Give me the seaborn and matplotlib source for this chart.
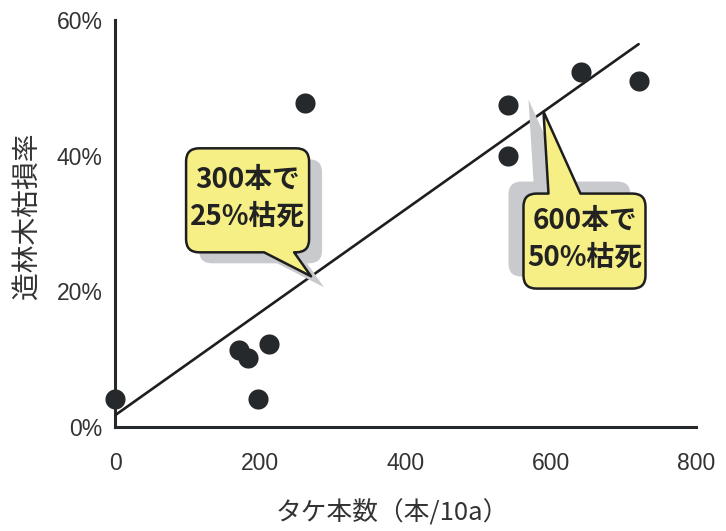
import numpy as np
import pandas as pd
import seaborn as sns
import matplotlib
matplotlib.use("Agg")
import matplotlib.pyplot as plt
from matplotlib.path import Path
from matplotlib.patches import PathPatch
from matplotlib.transforms import IdentityTransform

# ---- data ----
bamboo = [0, 171, 183, 212, 197, 262, 541, 541, 641, 721]
damage = [4.1, 11.3, 10.1, 12.3, 4.1, 47.8, 47.5, 39.9, 52.4, 51.0]
x_ticks = [0, 200, 400, 600, 800]
y_ticks = [0, 20, 40, 60]
y_ticklabels = ["0%", "20%", "40%", "60%"]
callout_x = [270, 590]
callout_text = ["300本で\n25%枯死", "600本で\n50%枯死"]
xlabel = "タケ本数（本/10a）"
ylabel = "造林木枯損率"

df = pd.DataFrame({"bamboo": bamboo, "damage": damage})

sns.set_theme(style="white")
plt.rcParams["font.family"] = ["Noto Sans CJK JP", "DejaVu Sans"]

DPI = 100
W, H = 726, 531
fig = plt.figure(figsize=(W / DPI, H / DPI), dpi=DPI)
ax = fig.add_axes([115 / W, 1 - 427 / H, (696 - 115) / W, (427 - 20) / H])

dark = "#25292c"
sns.regplot(data=df, x="bamboo", y="damage", ci=None, ax=ax,
            scatter_kws=dict(s=210, color=dark, alpha=1, clip_on=False, zorder=4,
                             linewidths=0),
            line_kws=dict(color="#1e1e1e", lw=1.9, zorder=3))

ax.set_xlim(0, 800)
ax.set_ylim(0, 60)
ax.set_xticks(x_ticks)
ax.set_yticks(y_ticks)
ax.set_yticklabels(y_ticklabels)
for s in ["top", "right"]:
    ax.spines[s].set_visible(False)
for s in ["left", "bottom"]:
    ax.spines[s].set_linewidth(2.2)
    ax.spines[s].set_color(dark)
ax.tick_params(axis="both", direction="in", length=6, width=1.9, color=dark,
               labelsize=16.5, labelcolor="#333333",
               labelfontfamily="Liberation Sans")
ax.tick_params(axis="x", pad=18)
ax.tick_params(axis="y", pad=9)

ax.set_xlabel(xlabel, fontsize=18.5, color="#333333")
ax.set_ylabel(ylabel, fontsize=20, color="#333333")
ax.xaxis.set_label_coords((392 - 115) / 581, (427 - 513) / 407)
ax.xaxis.label.set_verticalalignment("center")
ax.yaxis.set_label_coords((28 - 115) / 581, (427 - 216) / 407)
ax.yaxis.label.set_verticalalignment("center")

# ---- callouts ----
coef = np.polyfit(bamboo, damage, 1)


def bubble_path(x0, x1, y0, y1, r, side, b0, b1, tip):
    M, L, C = Path.MOVETO, Path.LINETO, Path.CURVE3
    v, c = [(x0 + r, y0)], [M]
    if side == "bottom":
        v += [(b0, y0), tip, (b1, y0)]; c += [L, L, L]
    v += [(x1 - r, y0), (x1, y0), (x1, y0 + r), (x1, y1 - r), (x1, y1), (x1 - r, y1)]
    c += [L, C, C, L, C, C]
    if side == "top":
        v += [(b1, y1), tip, (b0, y1)]; c += [L, L, L]
    v += [(x0 + r, y1), (x0, y1), (x0, y1 - r), (x0, y0 + r), (x0, y0), (x0 + r, y0)]
    c += [L, C, C, L, C, C]
    v.append((x0 + r, y0)); c.append(Path.CLOSEPOLY)
    return Path(v, c)


# geometry relative to the tip, in pixels (x right, y up)
specs = [
    dict(box=(-125, -2, 24, 128), side="bottom", base=(-47, -17), shadow=(13, -11)),
    dict(box=(-20, 102, -177, -82), side="top", base=(5, 37), shadow=(-15, 12)),
]
fig.canvas.draw()
for xc, txt, sp in zip(callout_x, callout_text, specs):
    yc = np.polyval(coef, xc)
    tx, ty = ax.transData.transform((xc, yc))
    bx0, bx1, by0, by1 = sp["box"]
    b0, b1 = sp["base"]
    for (ox, oy), fc, ec, z in [(sp["shadow"], "#c8cacd", "none", 5),
                                ((0, 0), "#f6ef86", "#1e1e1e", 6)]:
        p = bubble_path(tx + bx0 + ox, tx + bx1 + ox, ty + by0 + oy, ty + by1 + oy, 13,
                        sp["side"], tx + b0 + ox, tx + b1 + ox, (tx + ox, ty + oy))
        patch = PathPatch(p, transform=IdentityTransform(), facecolor=fc,
                          edgecolor=ec, lw=1.8, zorder=z, clip_on=False,
                          joinstyle="round")
        fig.add_artist(patch)
    cx = (tx + (bx0 + bx1) / 2) / W
    cy = (ty + (by0 + by1) / 2 + 2) / H
    fig.text(cx, cy, txt, ha="center", va="center", fontsize=20, fontweight="bold",
             color="#222222", linespacing=1.4, zorder=7)

fig.savefig("out.png", dpi=DPI, facecolor="white")
